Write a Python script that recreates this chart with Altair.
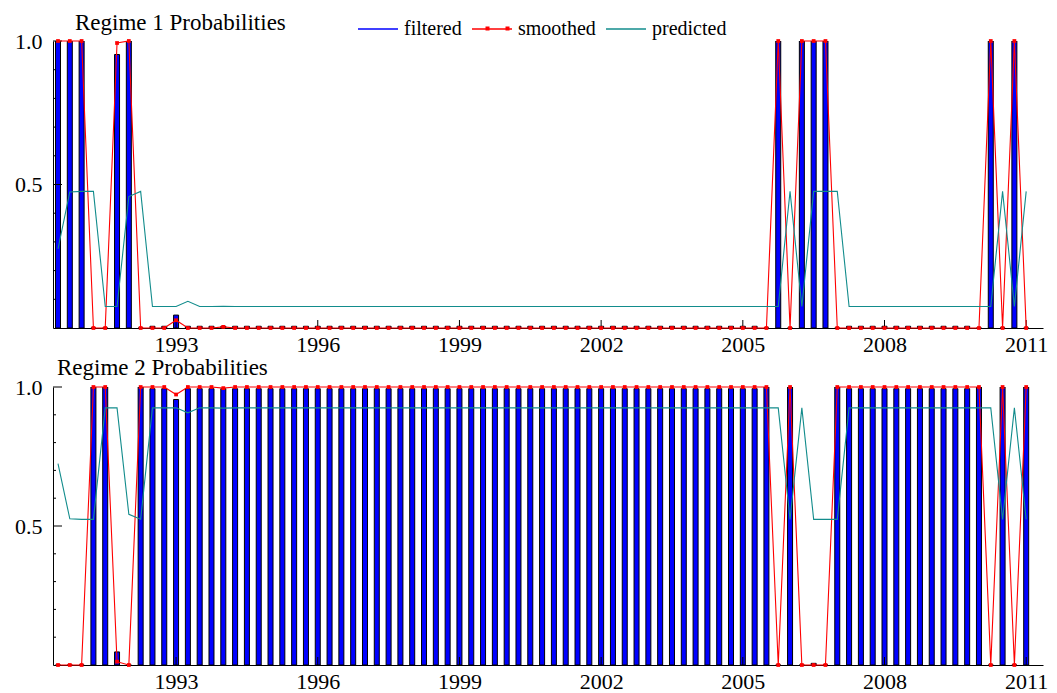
import altair as alt
import pandas as pd

# ---------------- data (quarterly, 1990Q3 .. 2011Q1) ----------------
quarters = []
yy, qq = 1990, 3
for _ in range(83):
    quarters.append(f"{yy}Q{qq}")
    qq += 1
    if qq > 4:
        qq = 1
        yy += 1
t_vals = [int(s[:4]) + (int(s[-1]) - 1) / 4 for s in quarters]

year_labels = [1993, 1996, 1999, 2002, 2005, 2008, 2011]

# Regime 1
filtered1 = [
    1.0, 1.0, 1.0, 0.0, 0.0, 0.953, 1.0, 0.0, 0.006, 0.006,
    0.045, 0.006, 0.006, 0.006, 0.006, 0.006, 0.006, 0.006, 0.006, 0.006,
    0.006, 0.006, 0.006, 0.006, 0.006, 0.006, 0.006, 0.006, 0.006, 0.006,
    0.006, 0.006, 0.006, 0.006, 0.006, 0.006, 0.006, 0.006, 0.006, 0.006,
    0.006, 0.006, 0.006, 0.006, 0.006, 0.006, 0.006, 0.006, 0.006, 0.006,
    0.006, 0.006, 0.006, 0.006, 0.006, 0.006, 0.006, 0.006, 0.006, 0.006,
    0.0, 1.0, 0.0, 1.0, 1.0, 1.0, 0.0, 0.006, 0.006, 0.006,
    0.006, 0.006, 0.006, 0.006, 0.006, 0.006, 0.006, 0.006, 0.0, 1.0,
    0.0, 1.0, 0.0,
]
smoothed1 = [
    1.0, 1.0, 1.0, 0.0, 0.0, 0.993, 1.0, 0.0, 0.0, 0.0,
    0.027, 0.0, 0.0, 0.0, 0.004, 0.0, 0.0, 0.0, 0.0, 0.0,
    0.0, 0.0, 0.0, 0.0, 0.0, 0.0, 0.0, 0.0, 0.0, 0.0,
    0.0, 0.0, 0.0, 0.0, 0.0, 0.0, 0.0, 0.0, 0.0, 0.0,
    0.0, 0.0, 0.0, 0.0, 0.0, 0.0, 0.0, 0.0, 0.0, 0.0,
    0.0, 0.0, 0.0, 0.0, 0.0, 0.0, 0.0, 0.0, 0.0, 0.0,
    0.0, 1.0, 0.0, 1.0, 1.0, 1.0, 0.0, 0.0, 0.0, 0.0,
    0.0, 0.0, 0.0, 0.0, 0.0, 0.0, 0.0, 0.0, 0.0, 1.0,
    0.0, 1.0, 0.0,
]
predicted1 = [
    0.276, 0.474, 0.476, 0.476, 0.075, 0.075, 0.458, 0.476, 0.075, 0.075,
    0.075, 0.093, 0.075, 0.075, 0.076, 0.075, 0.075, 0.075, 0.075, 0.075,
    0.075, 0.075, 0.075, 0.075, 0.075, 0.075, 0.075, 0.075, 0.075, 0.075,
    0.075, 0.075, 0.075, 0.075, 0.075, 0.075, 0.075, 0.075, 0.075, 0.075,
    0.075, 0.075, 0.075, 0.075, 0.075, 0.075, 0.075, 0.075, 0.075, 0.075,
    0.075, 0.075, 0.075, 0.075, 0.075, 0.075, 0.075, 0.075, 0.075, 0.075,
    0.075, 0.075, 0.476, 0.075, 0.476, 0.476, 0.476, 0.075, 0.075, 0.075,
    0.075, 0.075, 0.075, 0.075, 0.075, 0.075, 0.075, 0.075, 0.075, 0.075,
    0.476, 0.075, 0.476,
]

# Regime 2
filtered2 = [
    0.0, 0.0, 0.0, 1.0, 1.0, 0.047, 0.0, 1.0, 0.994, 0.994,
    0.955, 0.994, 0.994, 0.994, 0.994, 0.994, 0.994, 0.994, 0.994, 0.994,
    0.994, 0.994, 0.994, 0.994, 0.994, 0.994, 0.994, 0.994, 0.994, 0.994,
    0.994, 0.994, 0.994, 0.994, 0.994, 0.994, 0.994, 0.994, 0.994, 0.994,
    0.994, 0.994, 0.994, 0.994, 0.994, 0.994, 0.994, 0.994, 0.994, 0.994,
    0.994, 0.994, 0.994, 0.994, 0.994, 0.994, 0.994, 0.994, 0.994, 0.994,
    1.0, 0.0, 1.0, 0.0, 0.006, 0.0, 1.0, 0.994, 0.994, 0.994,
    0.994, 0.994, 0.994, 0.994, 0.994, 0.994, 0.994, 0.994, 1.0, 0.0,
    1.0, 0.0, 1.0,
]
smoothed2 = [
    0.0, 0.0, 0.0, 1.0, 1.0, 0.012, 0.0, 1.0, 1.0, 1.0,
    0.973, 1.0, 1.0, 1.0, 0.996, 1.0, 1.0, 1.0, 1.0, 1.0,
    1.0, 1.0, 1.0, 1.0, 1.0, 1.0, 1.0, 1.0, 1.0, 1.0,
    1.0, 1.0, 1.0, 1.0, 1.0, 1.0, 1.0, 1.0, 1.0, 1.0,
    1.0, 1.0, 1.0, 1.0, 1.0, 1.0, 1.0, 1.0, 1.0, 1.0,
    1.0, 1.0, 1.0, 1.0, 1.0, 1.0, 1.0, 1.0, 1.0, 1.0,
    1.0, 0.0, 1.0, 0.0, 0.0, 0.0, 1.0, 1.0, 1.0, 1.0,
    1.0, 1.0, 1.0, 1.0, 1.0, 1.0, 1.0, 1.0, 1.0, 0.0,
    1.0, 0.0, 1.0,
]
predicted2 = [
    0.724, 0.526, 0.524, 0.524, 0.925, 0.925, 0.542, 0.524, 0.925, 0.925,
    0.925, 0.907, 0.925, 0.925, 0.924, 0.925, 0.925, 0.925, 0.925, 0.925,
    0.925, 0.925, 0.925, 0.925, 0.925, 0.925, 0.925, 0.925, 0.925, 0.925,
    0.925, 0.925, 0.925, 0.925, 0.925, 0.925, 0.925, 0.925, 0.925, 0.925,
    0.925, 0.925, 0.925, 0.925, 0.925, 0.925, 0.925, 0.925, 0.925, 0.925,
    0.925, 0.925, 0.925, 0.925, 0.925, 0.925, 0.925, 0.925, 0.925, 0.925,
    0.925, 0.925, 0.524, 0.925, 0.524, 0.524, 0.524, 0.925, 0.925, 0.925,
    0.925, 0.925, 0.925, 0.925, 0.925, 0.925, 0.925, 0.925, 0.925, 0.925,
    0.524, 0.925, 0.524,
]

y_minor_ticks = [0.1, 0.2, 0.3, 0.4, 0.6, 0.7, 0.8, 0.9]
y_major_ticks = [0.5, 1.0]

series_names = ["filtered", "smoothed", "predicted"]
series_colors = ["#0000ff", "#ff0000", "#128c8c"]

FONT = "Liberation Serif"

# ---------------- chart helpers ----------------
XSCALE = alt.Scale(domain=[1990.5, 2011.25], nice=False, zero=False)
YSCALE = alt.Scale(domain=[0, 1], nice=False, zero=True)

x_axis = alt.Axis(values=year_labels, format="d", ticks=False, grid=False, title=None,
                  domainColor="#000000", domainWidth=1, labelFontSize=22, labelFont=FONT,
                  labelColor="#000000", labelPadding=6, labelFlush=False)
y_axis = alt.Axis(values=[0.5, 1.0], format=".1f", ticks=False, grid=False, title=None,
                  domainColor="#000000", domainWidth=1, labelFontSize=22, labelFont=FONT,
                  labelColor="#000000", labelPadding=11, labelFlush=False)

# two small squares drawn over the "smoothed" legend line
DOTS_SYMBOL = "M-0.6,-0.1H-0.4V0.1H-0.6ZM0.4,-0.1H0.6V0.1H0.4Z"


def panel(filtered, smoothed, predicted, title, h, title_x, title_y, show_legend):
    df = pd.DataFrame({"t": t_vals, "quarter": quarters, "filtered": filtered,
                       "smoothed": smoothed, "predicted": predicted})
    X = alt.X("t:Q", scale=XSCALE, axis=x_axis)
    base = alt.Chart(df)

    bars = base.mark_bar(size=5, fill="#0000ff", stroke="#000000", strokeWidth=1,
                         clip=True).encode(
        x=X, y=alt.Y("filtered:Q", scale=YSCALE, axis=y_axis))

    color_kw = dict(scale=alt.Scale(domain=series_names, range=series_colors))
    if show_legend:
        color_kw["legend"] = alt.Legend(
            orient="none", legendX=304, legendY=-33, direction="horizontal",
            title=None, symbolType="stroke", symbolSize=1600,
            symbolStrokeWidth=1.3, labelFontSize=20, labelFont=FONT,
            labelColor="#000000", columnPadding=7, labelOffset=5)
    else:
        color_kw["legend"] = None

    lines = base.transform_fold(["smoothed", "predicted"], as_=["series", "value"]).mark_line(
        strokeWidth=1.1).encode(
        x=X, y=alt.Y("value:Q", scale=YSCALE, axis=y_axis),
        color=alt.Color("series:N", **color_kw))

    pts = base.mark_square(size=14, color="#ff0000", opacity=1).encode(
        x=X, y=alt.Y("smoothed:Q", scale=YSCALE, axis=y_axis))

    ymin = alt.Chart(pd.DataFrame({"v": y_minor_ticks})).mark_rule(
        color="#000000", strokeWidth=1).encode(
        y=alt.Y("v:Q", scale=YSCALE, axis=y_axis), x=alt.value(0), x2=alt.value(3))
    ymaj = alt.Chart(pd.DataFrame({"v": y_major_ticks})).mark_rule(
        color="#000000", strokeWidth=1).encode(
        y=alt.Y("v:Q", scale=YSCALE, axis=y_axis), x=alt.value(0), x2=alt.value(9))
    xmaj = alt.Chart(pd.DataFrame({"t": year_labels})).mark_rule(
        color="#000000", strokeWidth=1).encode(
        x=X, y=alt.value(h), y2=alt.value(h - 8))

    ttl = alt.Chart(pd.DataFrame({"label": [title]})).mark_text(
        align="left", baseline="alphabetic", font=FONT, fontSize=23, color="#000000").encode(
        text="label:N", x=alt.value(title_x), y=alt.value(title_y))

    layers = [bars, ymin, ymaj, xmaj, lines, pts, ttl]

    if show_legend:
        # invisible (clipped) point whose legend symbol adds the dots of the "smoothed" key
        dots = alt.Chart(pd.DataFrame({"t": [1980.0], "v": [0.0], "key": ["smoothed"]})).mark_point(
            filled=True, color="#ff0000", clip=True).encode(
            x=alt.X("t:Q", scale=XSCALE, axis=x_axis),
            y=alt.Y("v:Q", scale=YSCALE, axis=y_axis),
            shape=alt.Shape("key:N", scale=alt.Scale(domain=["smoothed"], range=[DOTS_SYMBOL]),
                            legend=alt.Legend(orient="none", legendX=424, legendY=-33,
                                              title=None, symbolSize=1600, labelFontSize=20,
                                              labelFont=FONT, labelExpr="''", labelOffset=0,
                                              symbolFillColor="#ff0000",
                                              symbolStrokeColor="#ff0000",
                                              symbolStrokeWidth=0.5, symbolOpacity=1)))
        layers.append(dots)

    return alt.layer(*layers).properties(width=990, height=h)


p1 = panel(filtered1, smoothed1, predicted1, "Regime 1 Probabilities", 287, 22, -11, True)
p2 = panel(filtered2, smoothed2, predicted2, "Regime 2 Probabilities", 278, 4, -12, False)

chart = alt.vconcat(p1, p2, spacing=2).resolve_scale(color="independent", shape="independent").resolve_legend(
    color="independent", shape="independent").properties(
    padding={"left": 14, "top": 8, "right": 4, "bottom": 0}
).configure(font=FONT).configure_view(strokeOpacity=0)

chart.save("out.html", embed_options={"renderer": "svg", "actions": False})
